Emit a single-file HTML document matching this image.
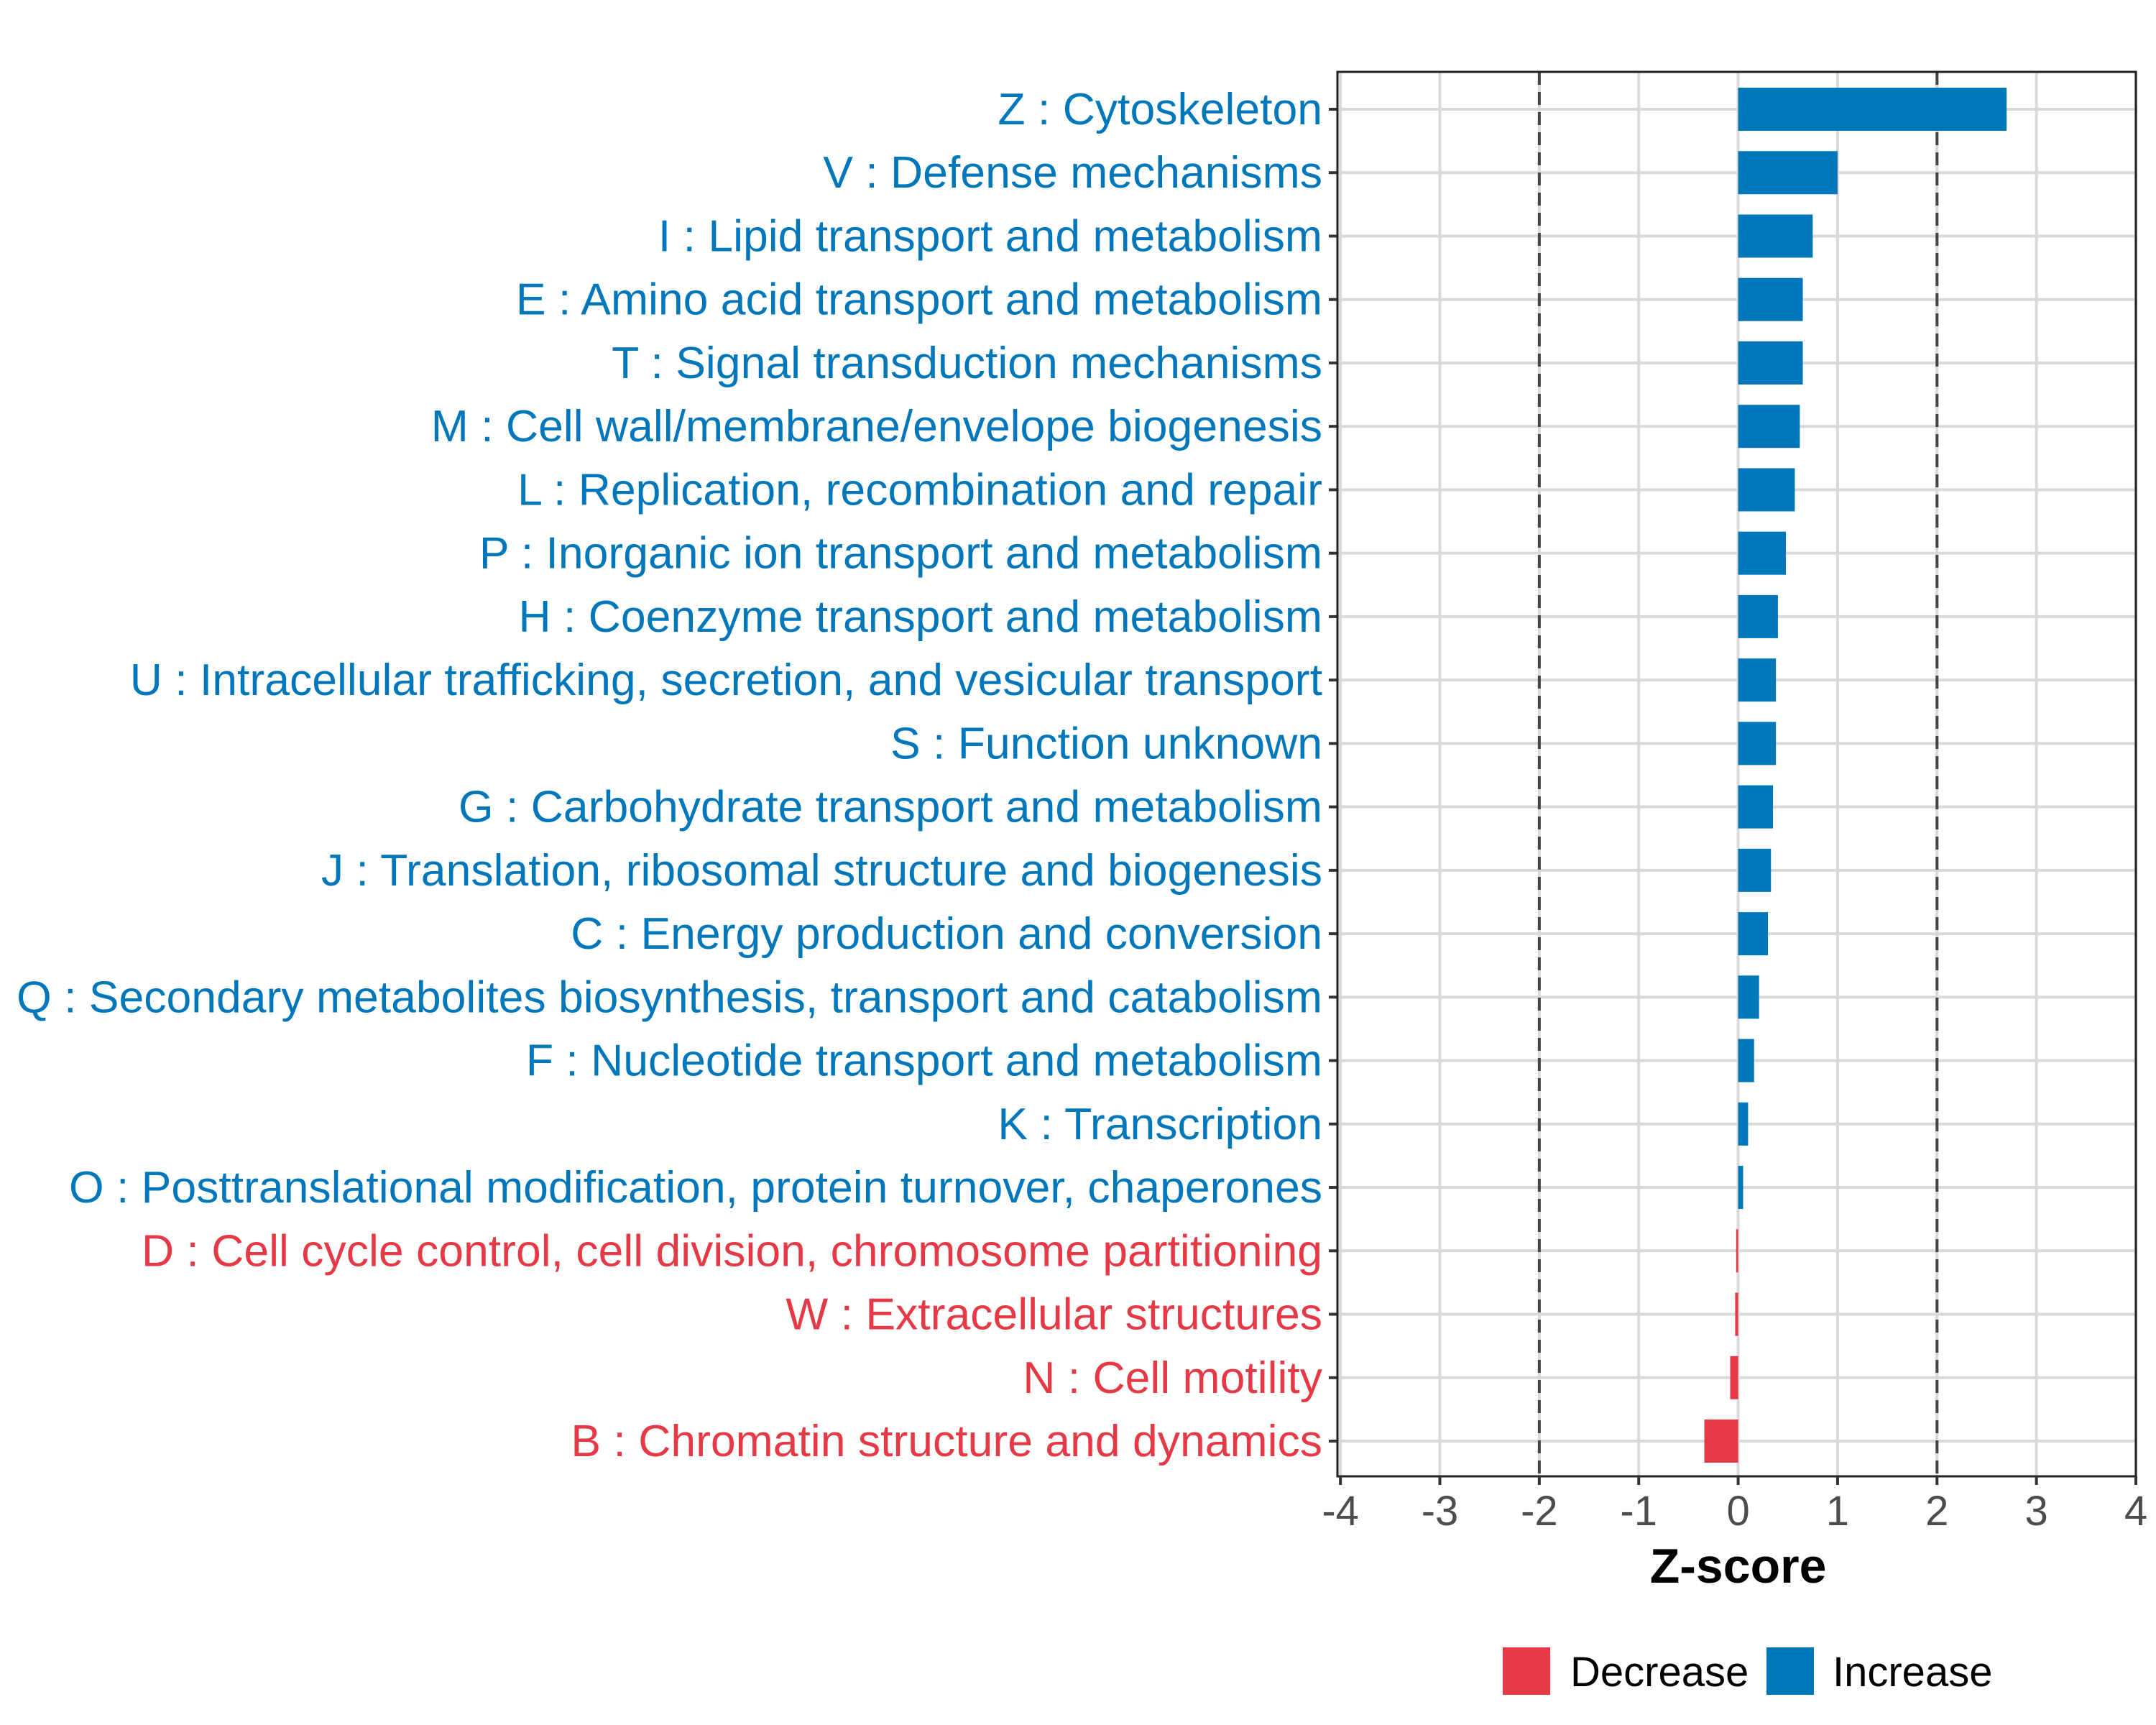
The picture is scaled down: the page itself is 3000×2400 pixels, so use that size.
<!DOCTYPE html>
<html><head><meta charset="utf-8"><style>
html,body{margin:0;padding:0;background:#fff;}
svg{display:block;font-family:"Liberation Sans",sans-serif;}
</style></head><body>
<svg id="chart" width="3000" height="2400" viewBox="0 0 3000 2400"></svg>
<script>
const categories = ["Z : Cytoskeleton","V : Defense mechanisms","I : Lipid transport and metabolism","E : Amino acid transport and metabolism","T : Signal transduction mechanisms","M : Cell wall/membrane/envelope biogenesis","L : Replication, recombination and repair","P : Inorganic ion transport and metabolism","H : Coenzyme transport and metabolism","U : Intracellular trafficking, secretion, and vesicular transport","S : Function unknown","G : Carbohydrate transport and metabolism","J : Translation, ribosomal structure and biogenesis","C : Energy production and conversion","Q : Secondary metabolites biosynthesis, transport and catabolism","F : Nucleotide transport and metabolism","K : Transcription","O : Posttranslational modification, protein turnover, chaperones","D : Cell cycle control, cell division, chromosome partitioning","W : Extracellular structures","N : Cell motility","B : Chromatin structure and dynamics"];
const zscores = [2.7,1.0,0.75,0.65,0.65,0.62,0.57,0.48,0.4,0.38,0.38,0.35,0.33,0.3,0.21,0.16,0.1,0.05,-0.02,-0.03,-0.08,-0.34];
const xTicks = [-4,-3,-2,-1,0,1,2,3,4];
const thresholds = [-2,2];

const NS="http://www.w3.org/2000/svg";
const svg=document.getElementById('chart');
const L=1861,R=2972,T=100,B=2054;
const xmin=-4.03,xmax=4.0;
const x=v=>L+(v-xmin)/(xmax-xmin)*(R-L);
const y0=152,dy=(2005-152)/(categories.length-1);
const y=i=>y0+i*dy;
const BLUE="#0077bb",RED="#e63946";
function mk(tag,attrs,parent){const e=document.createElementNS(NS,tag);for(const k in attrs)e.setAttribute(k,attrs[k]);(parent||svg).appendChild(e);return e;}

const grid=mk('g',{});


xTicks.forEach(t=>{const l=mk('line',{x1:x(t),x2:x(t),y1:T,y2:B,stroke:'#d9d9d9','stroke-width':4},grid);

});
categories.forEach((c,i)=>{const l=mk('line',{x1:L,x2:R,y1:y(i),y2:y(i),stroke:'#d9d9d9','stroke-width':4},grid);

});

thresholds.forEach(t=>{const l=mk('line',{x1:x(t),x2:x(t),y1:T,y2:B,stroke:'#444','stroke-width':4,'stroke-dasharray':'18 10'});

});

const bh=60;
zscores.forEach((v,i)=>{const a=x(Math.min(0,v)),b=x(Math.max(0,v));
const r=mk('rect',{x:a,y:y(i)-bh/2,width:Math.max(b-a,2),height:bh,fill:v<0?RED:BLUE});


const tx=mk('text',{x:1840,y:y(i)+21,'text-anchor':'end','font-size':62.5,fill:v<0?RED:BLUE});
tx.textContent=categories[i];


const tk=mk('line',{x1:L-12,x2:L,y1:y(i),y2:y(i),stroke:'#333','stroke-width':4});

});

const frame=mk('rect',{x:L,y:T,width:R-L,height:B-T,fill:'none',stroke:'#222','stroke-width':3});



xTicks.forEach(t=>{const tk=mk('line',{x1:x(t),x2:x(t),y1:B,y2:B+12,stroke:'#333','stroke-width':4});


const tx=mk('text',{x:x(t),y:B+68,'text-anchor':'middle','font-size':58,fill:'#4d4d4d'});
tx.textContent=t;

});

const title=mk('text',{x:x(0),y:2202,'text-anchor':'middle','font-size':68,'font-weight':'bold',fill:'#000'});
title.textContent='Z-score';



const lg=mk('g',{});


[["Decrease",RED,2099,2193],["Increase",BLUE,2466,2558]].forEach(d=>{
const r=mk('rect',{x:d[2]-8,y:2292,width:66,height:66,fill:d[1]},lg);


const t=mk('text',{x:d[3]-8,y:2346,'font-size':58,fill:'#000'},lg);
t.textContent=d[0];

});
</script>
</body></html>
